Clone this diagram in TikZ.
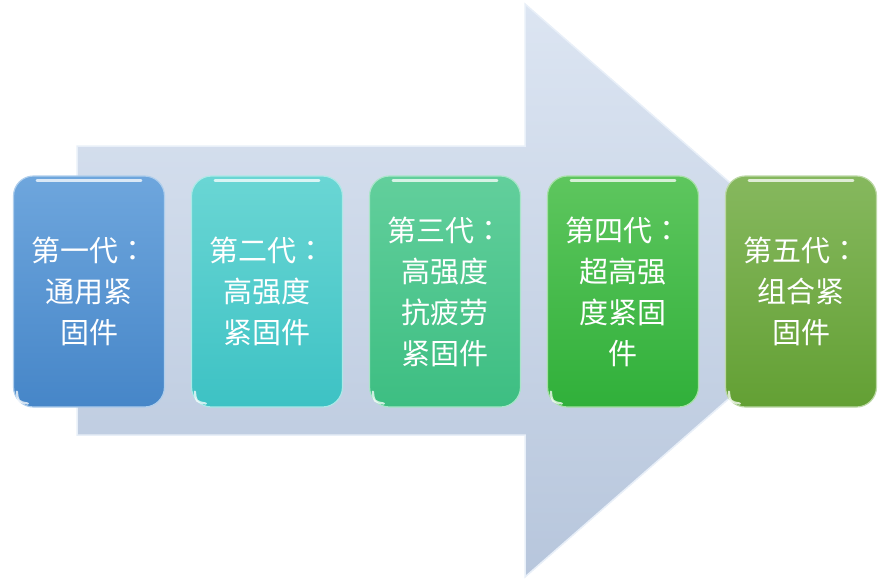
\documentclass[tikz,border=0pt]{standalone}
\usepackage{fontspec}
\newfontfamily\cjk{Noto Sans CJK SC}
\newfontfamily\cjktc{Noto Sans CJK TC}
\newcommand{\fwcolon}{{\cjktc ：}}
\definecolor{arrtop}{HTML}{DCE5F2}
\definecolor{arrbot}{HTML}{B7C6DC}
\definecolor{arredge}{HTML}{E8EFF8}
\definecolor{aT}{HTML}{6EA6DD}\definecolor{aB}{HTML}{4686C8}
\definecolor{bT}{HTML}{6AD6D4}\definecolor{bB}{HTML}{3DC2C4}
\definecolor{cT}{HTML}{62CF9C}\definecolor{cB}{HTML}{3DBE82}
\definecolor{dT}{HTML}{5EC65E}\definecolor{dB}{HTML}{30B03A}
\definecolor{eT}{HTML}{86B85E}\definecolor{eB}{HTML}{63A034}
\tikzset{
  genbox/.style 2 args={rounded corners=20pt, minimum width=151pt, minimum height=231pt,
    top color=#1, bottom color=#2, draw=#1!55!white, line width=1.2pt,
    text=white, align=center, inner sep=0pt,
    font=\cjk\fontsize{29}{41}\selectfont},
  gloss/.style={white, opacity=0.75, line width=2.5pt, line cap=round},
  corner/.style={white, opacity=0.75, line width=2.2pt, line cap=round}
}
\begin{document}
\begin{tikzpicture}[x=1pt,y=-1pt]
\useasboundingbox (0,0) rectangle (891,582);
% big arrow
\shade[top color=arrtop, bottom color=arrbot, draw=arredge, line width=1.5pt]
  (77,146) -- (525,146) -- (525,4) -- (853,290) -- (525,577) -- (525,435) -- (77,435) -- cycle;
% generation boxes
\node[genbox={aT}{aB}] (b1) at (89,291.5) {第一代\fwcolon\\通用紧\\固件};
\node[genbox={bT}{bB}] (b2) at (267,291.5) {第二代\fwcolon\\高强度\\紧固件};
\node[genbox={cT}{cB}] (b3) at (445,291.5) {第三代\fwcolon\\高强度\\抗疲劳\\紧固件};
\node[genbox={dT}{dB}] (b4) at (623,291.5) {第四代\fwcolon\\超高强\\度紧固\\件};
\node[genbox={eT}{eB}] (b5) at (801,291.5) {第五代\fwcolon\\组合紧\\固件};
% glossy highlights
\foreach \n in {b1,b2,b3,b4,b5}{
  \draw[gloss] ([xshift=24pt,yshift=-5pt]\n.north west) -- ([xshift=-24pt,yshift=-5pt]\n.north east);
  \draw[corner] ([xshift=4pt,yshift=16pt]\n.south west) .. controls ([xshift=5pt,yshift=6pt]\n.south west) .. ([xshift=15pt,yshift=4pt]\n.south west);
}
\end{tikzpicture}
\end{document}
